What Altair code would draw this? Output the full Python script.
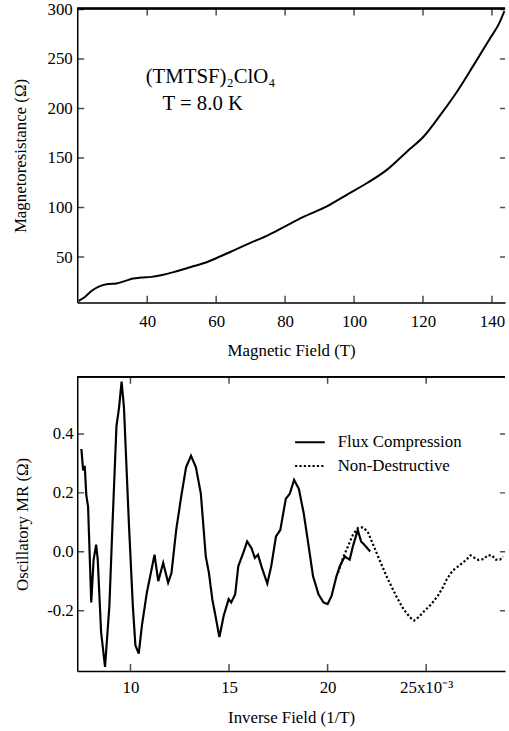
import altair as alt
import pandas as pd

FONT = "Liberation Serif"

# ---------------- data: top panel ----------------
field_T = [20.1, 20.6, 22.0, 23.9, 26.3, 28.7, 31.1, 33.5, 35.9, 38.3, 41.2, 44.0, 47.9,
           52.7, 57.4, 60.3, 65.1, 70.4, 75, 80, 85, 92.4, 98.1, 103.9, 109.6, 115.4,
           120.2, 125.0, 129.8, 134.6, 139.3, 142.2, 143.6]
mr_ohm = [5.5, 6.7, 10, 16, 20.7, 22.7, 23.3, 25.7, 28.3, 29.3, 30, 31.7, 35,
          40, 45, 49.3, 56.7, 65, 72, 81, 90, 101.7, 113.3, 125, 138.3, 156.7,
          171.7, 193.3, 216.7, 243.3, 270, 286.7, 298.3]
top_x_ticks = [40, 60, 80, 100, 120, 140]
top_y_ticks = [50, 100, 150, 200, 250, 300]

# ---------------- data: bottom panel ----------------
flux_x = [7.51, 7.60, 7.68, 7.76, 7.85, 8.01, 8.13, 8.26, 8.34, 8.51, 8.71, 8.93, 9.09,
          9.29, 9.42, 9.55, 9.67, 9.92, 10.12, 10.25, 10.42, 10.58, 10.83, 11.0, 11.22,
          11.41, 11.66, 11.91, 12.08, 12.32, 12.57, 12.82, 13.07, 13.32, 13.57, 13.82,
          13.98, 14.15, 14.31, 14.51, 14.73, 14.98, 15.11, 15.31, 15.47, 15.72, 15.92,
          16.14, 16.31, 16.47, 16.64, 16.94, 17.14, 17.38, 17.60, 17.88, 18.08, 18.30,
          18.54, 18.79, 19.04, 19.26, 19.54, 19.79, 20.0, 20.2, 20.45, 20.62, 20.87,
          21.12, 21.28, 21.53, 21.70, 21.94, 22.16]
flux_y = [0.349, 0.276, 0.292, 0.192, 0.153, -0.172, -0.027, 0.024, -0.027, -0.273,
          -0.391, -0.184, 0.096, 0.427, 0.489, 0.578, 0.49, 0.096, -0.184, -0.318,
          -0.346, -0.251, -0.139, -0.083, -0.010, -0.100, -0.038, -0.105, -0.072, 0.074,
          0.186, 0.287, 0.326, 0.287, 0.197, -0.016, -0.072, -0.161, -0.217, -0.290,
          -0.217, -0.161, -0.172, -0.145, -0.049, -0.004, 0.035, 0.012, -0.021, -0.010,
          -0.049, -0.108, -0.049, 0.052, 0.074, 0.180, 0.197, 0.244, 0.214, 0.130,
          0.018, -0.083, -0.145, -0.172, -0.178, -0.150, -0.083, -0.049, -0.016, -0.027,
          0.018, 0.074, 0.035, 0.018, 0.001]
nd_x = [20.53, 20.78, 21.03, 21.28, 21.53, 21.78, 22.03, 22.28, 22.52, 22.77, 23.02,
        23.27, 23.52, 23.85, 24.18, 24.38, 24.60, 24.93, 25.26, 25.59, 25.84, 26.04,
        26.26, 26.42, 26.64, 26.84, 27.04, 27.25, 27.46, 27.66, 27.91, 28.13, 28.33,
        28.53, 28.74, 28.90]
nd_y = [-0.072, -0.021, 0.018, 0.057, 0.080, 0.083, 0.069, 0.029, -0.010, -0.049, -0.088,
        -0.122, -0.156, -0.195, -0.223, -0.234, -0.223, -0.200, -0.178, -0.150, -0.122,
        -0.094, -0.072, -0.060, -0.049, -0.038, -0.027, -0.012, -0.021, -0.028, -0.025,
        -0.012, -0.012, -0.027, -0.027, -0.016]
series_names = ["Flux Compression", "Non-Destructive"]
bot_x_ticks = [10, 15, 20, 25]
bot_y_ticks = [-0.2, 0.0, 0.2, 0.4]

# annotation text
label_compound = "(TMTSF)₂ClO₄"
label_temp = "T = 8.0 K"

# ---------------- layout ----------------
W = 432
H = 297
TICK = 7
FS = 17

axis_common = dict(ticks=False, grid=False, domainColor="black", domainWidth=1.5,
                   labelFont=FONT, labelFontSize=FS, labelColor="black",
                   titleFont=FONT, titleFontSize=FS, titleFontWeight="normal",
                   titleColor="black")


def frame_layers(xvals, yvals, xs, ys, xf, yf):
    dx = pd.DataFrame({xf: xvals})
    dy = pd.DataFrame({yf: yvals})
    tk = dict(size=2 * TICK, thickness=1.5, color="black", clip=True)
    bottom = alt.Chart(dx).mark_tick(orient="vertical", **tk).encode(
        x=alt.X(f"{xf}:Q", scale=xs), y=alt.value(H))
    top = alt.Chart(dx).mark_tick(orient="vertical", **tk).encode(
        x=alt.X(f"{xf}:Q", scale=xs), y=alt.value(0))
    left = alt.Chart(dy).mark_tick(orient="horizontal", **tk).encode(
        y=alt.Y(f"{yf}:Q", scale=ys), x=alt.value(0))
    right = alt.Chart(dy).mark_tick(orient="horizontal", size=2 * 5, thickness=1.5,
                                    color="black", clip=True).encode(
        y=alt.Y(f"{yf}:Q", scale=ys), x=alt.value(W))
    topline = alt.Chart(dx).mark_rule(color="black", strokeWidth=1.5).encode(
        x=alt.value(0), x2=alt.value(W), y=alt.value(0))
    return [bottom, top, left, right, topline]


# ---------------- top panel ----------------
xs1 = alt.Scale(domain=[19.7, 143.8], nice=False, zero=False)
ys1 = alt.Scale(domain=[4, 301], nice=False, zero=False)

top_df = pd.DataFrame({"B": field_T, "R": mr_ohm})
top_line = alt.Chart(top_df).mark_line(color="black", strokeWidth=2,
                                       interpolate="monotone").encode(
    x=alt.X("B:Q", scale=xs1,
            axis=alt.Axis(values=top_x_ticks, title="Magnetic Field (T)",
                          labelPadding=11, titlePadding=13, **axis_common)),
    y=alt.Y("R:Q", scale=ys1,
            axis=alt.Axis(values=top_y_ticks, title="Magnetoresistance (Ω)",
                          labelPadding=5, titlePadding=18, **axis_common)),
)

ann_df = pd.DataFrame({"B": [58.4, 56.1], "R": [232, 205],
                       "t": [label_compound, label_temp]})
ann = alt.Chart(ann_df).mark_text(font=FONT, fontSize=21, color="black",
                                  baseline="middle").encode(
    x=alt.X("B:Q", scale=xs1),
    y=alt.Y("R:Q", scale=ys1),
    text="t:N")

top_chart = alt.layer(top_line, ann,
                      *frame_layers(top_x_ticks, top_y_ticks, xs1, ys1, "B", "R")
                      ).properties(width=W, height=H)

# ---------------- bottom panel ----------------
xs2 = alt.Scale(domain=[7.3, 29.0], nice=False, zero=False)
ys2 = alt.Scale(domain=[-0.405, 0.594], nice=False, zero=False)

bot_df = pd.concat([
    pd.DataFrame({"x": flux_x, "y": flux_y, "s": series_names[0]}),
    pd.DataFrame({"x": nd_x, "y": nd_y, "s": series_names[1]}),
])

bot_line = alt.Chart(bot_df).mark_line(color="black", strokeWidth=2.2).encode(
    x=alt.X("x:Q", scale=xs2,
            axis=alt.Axis(values=bot_x_ticks, title="Inverse Field (1/T)",
                          labelExpr="datum.value == 25 ? '25x10⁻³' : datum.label",
                          labelPadding=9, titlePadding=14, **axis_common)),
    y=alt.Y("y:Q", scale=ys2,
            axis=alt.Axis(values=bot_y_ticks, title="Oscillatory MR (Ω)",
                          labelExpr="datum.value < 0 ? '-' + format(-datum.value, '.1f') : format(datum.value, '.1f')",
                          labelPadding=4, titlePadding=15, **axis_common)),
    strokeDash=alt.StrokeDash(
        "s:N",
        scale=alt.Scale(domain=series_names, range=[[1, 0], [2.2, 2.2]]),
        legend=alt.Legend(title=None, orient="none", legendX=219, legendY=422,
                          symbolType="stroke", symbolSize=900,
                          symbolStrokeWidth=2, symbolStrokeColor="black",
                          labelFont=FONT, labelFontSize=FS, labelColor="black",
                          labelOffset=12, rowPadding=-6, padding=0)),
    detail="s:N",
)

bot_chart = alt.layer(bot_line,
                      *frame_layers(bot_x_ticks, bot_y_ticks, xs2, ys2, "x", "y")
                      ).properties(width=W, height=H)

chart = alt.vconcat(top_chart, bot_chart, spacing=18).configure_view(
    stroke=None).properties(
    padding={"left": 11, "top": -4, "right": 0, "bottom": 0})

chart.save("out.html", embed_options={"renderer": "svg", "actions": False})
